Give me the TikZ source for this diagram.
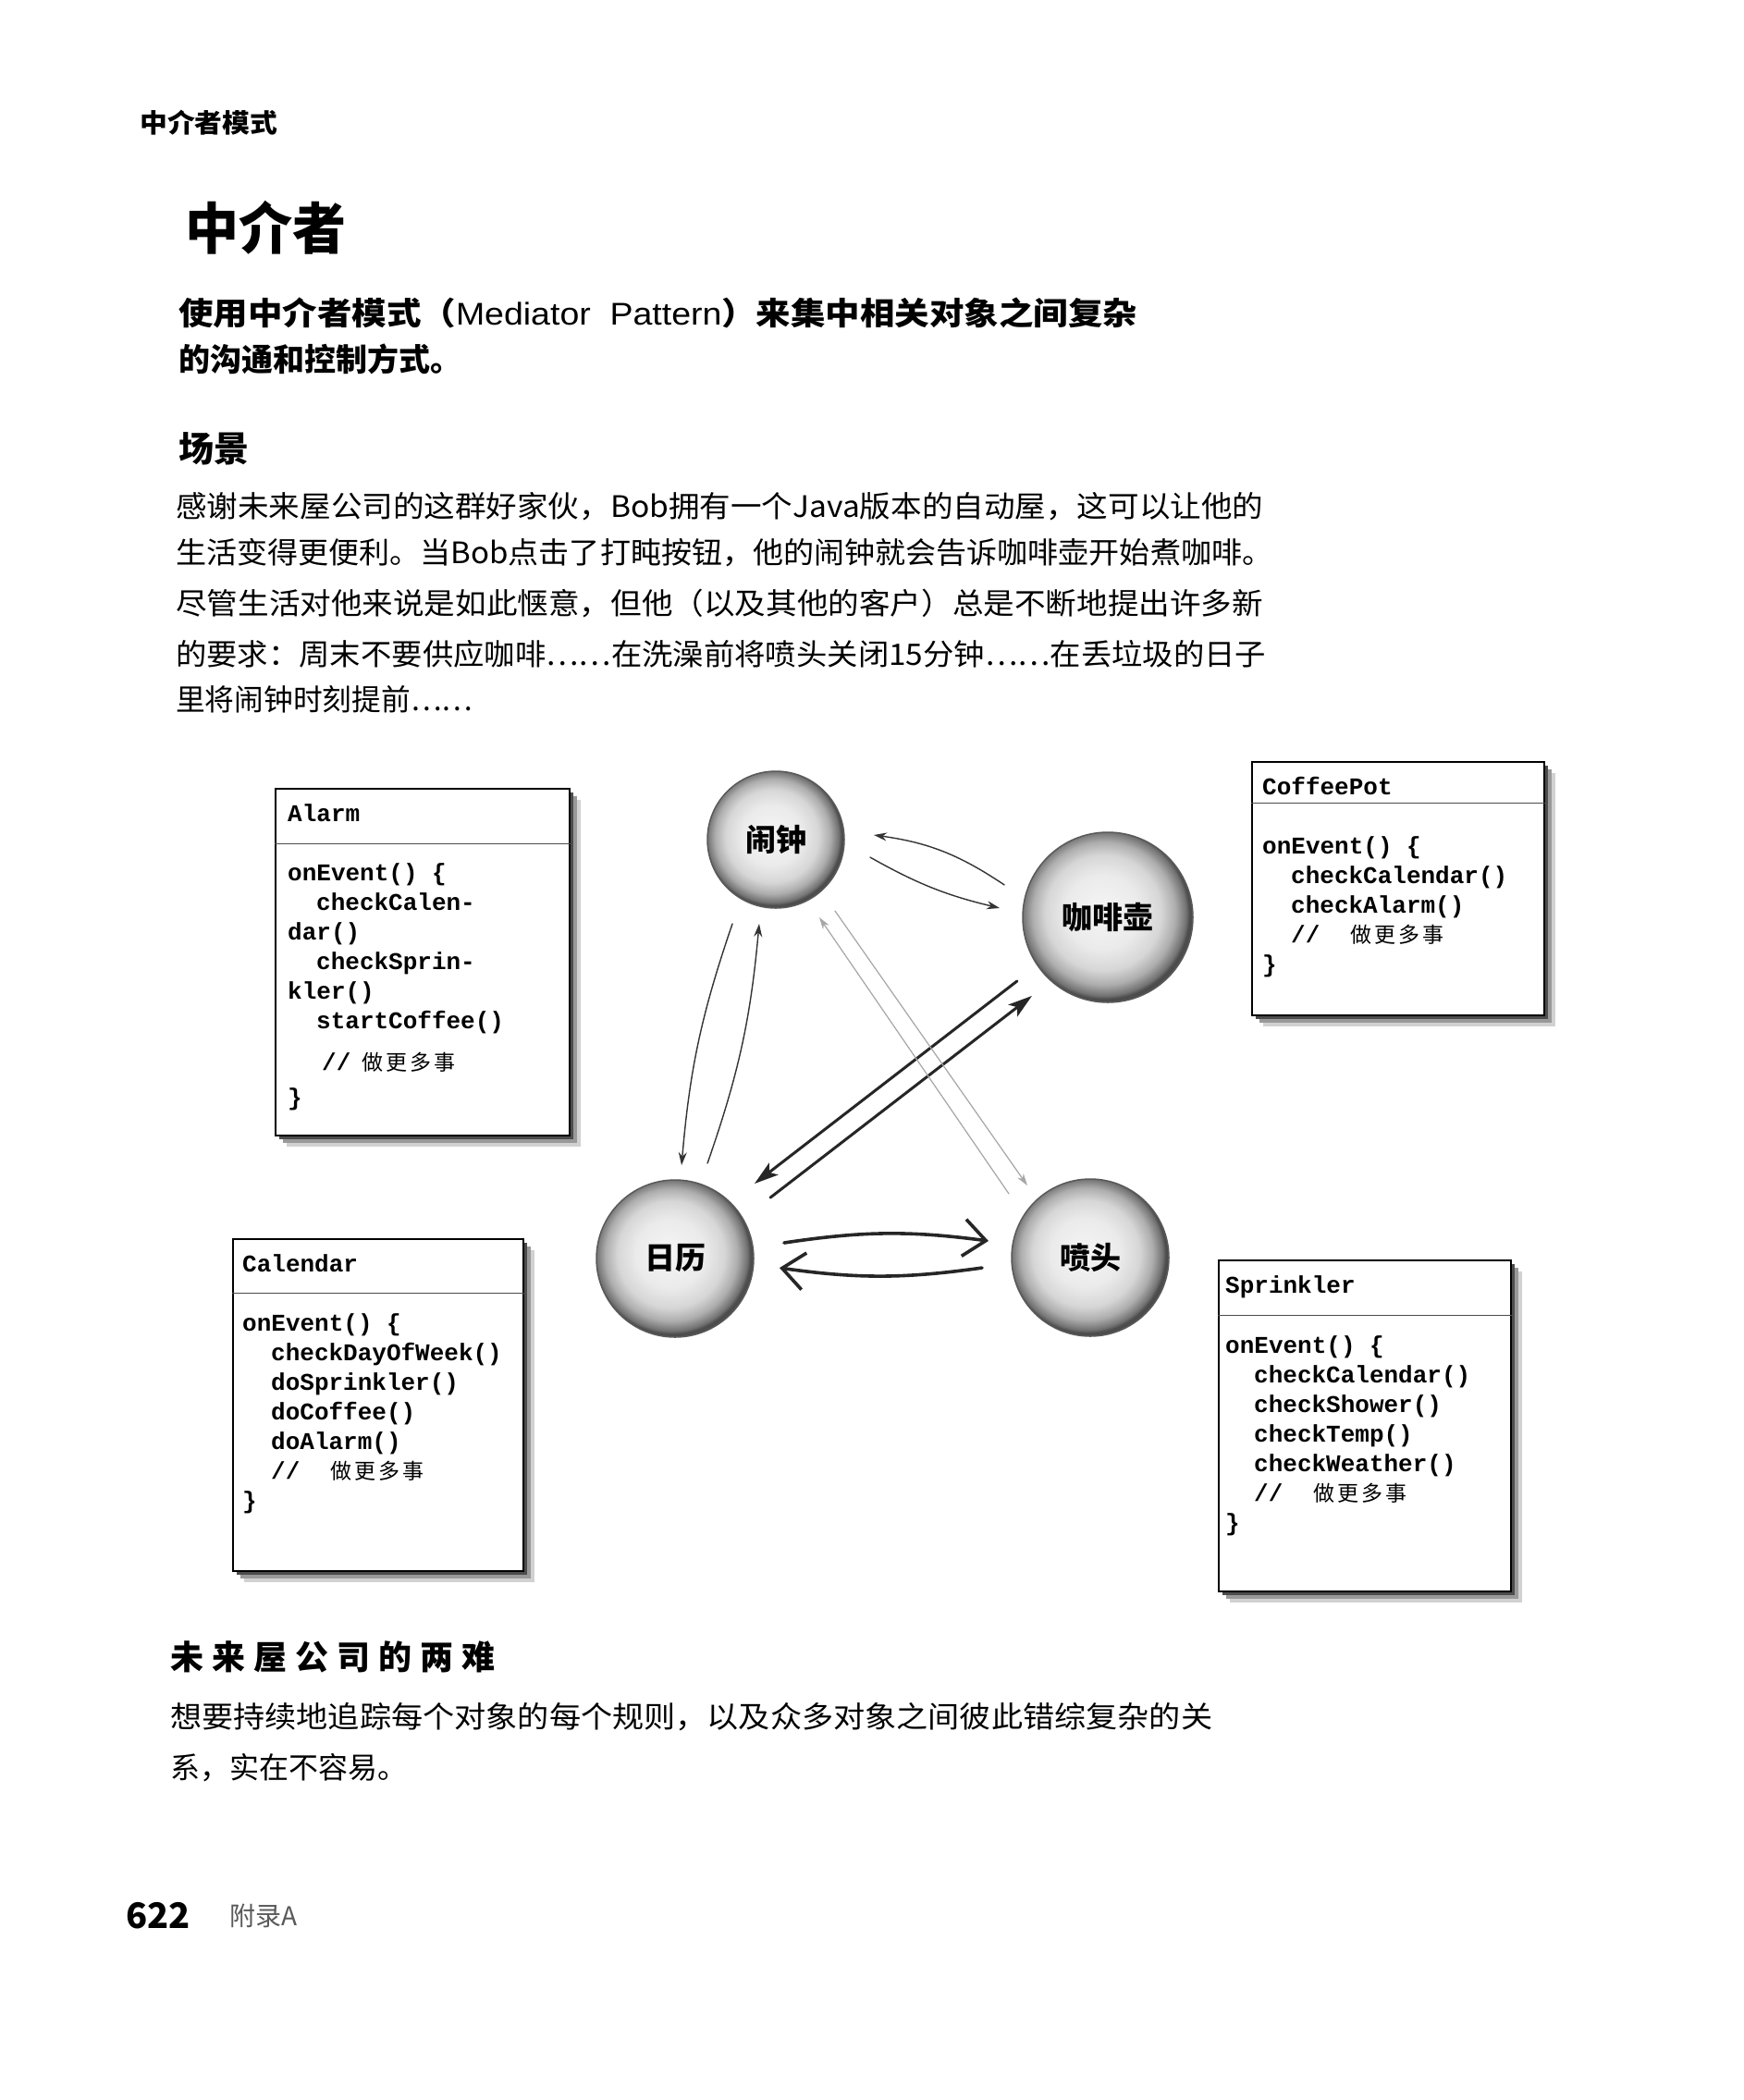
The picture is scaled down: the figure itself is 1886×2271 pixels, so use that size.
\documentclass[tikz,border=0pt]{standalone}
\usepackage{fontspec}
\usepackage{graphicx}
\setmainfont{Noto Sans CJK SC}
\newfontfamily\cjk{Noto Sans CJK SC}
\newfontfamily\monob{Liberation Mono}
\newfontfamily\latsans{Liberation Sans}
\usetikzlibrary{arrows.meta,shadows,calc}
\pgfdeclareradialshading{sphere}{\pgfpoint{-2bp}{2bp}}{color(0bp)=(black!4); color(11bp)=(black!8); color(17bp)=(black!16); color(21bp)=(black!32); color(24bp)=(black!55); color(25bp)=(black!70); color(50bp)=(black!70)}
\newcommand\fs[2]{\fontsize{#1}{#2}\selectfont}
\newcommand\fitto[2]{\resizebox{#1}{\height}{#2}}
\newcommand\todo{{\cjk\mdseries\fs{23}{32}做\hspace{3pt}更\hspace{3pt}多\hspace{3pt}事}}
\tikzset{
  classbox/.style={draw=black, line width=1.8pt, fill=white, inner sep=0pt,
    general shadow={shadow xshift=12pt, shadow yshift=-12pt, fill=black!18},
    general shadow={shadow xshift=8pt, shadow yshift=-8pt, fill=black!40},
    general shadow={shadow xshift=4pt, shadow yshift=-4pt, fill=black!70}},
  divider/.style={draw=black!70, line width=1pt},
  monotext/.style={inner sep=0pt, font=\monob\bfseries\fs{26}{32}},
  txt/.style={inner sep=0pt, anchor=west},
  ball/.style={circle, draw=black!65, line width=1.5pt, shading=sphere, inner sep=0pt, font=\bfseries\fs{33}{40}},
  thinarr/.style={draw=black!80, line width=1.4pt, line cap=round, -{Stealth[length=14pt,width=9pt]}},
  greyarr/.style={draw=black!35, line width=1.2pt, line cap=round, -{Stealth[length=13pt,width=8pt]}},
  thickarr/.style={draw=black!85, line width=3pt, line cap=round, -{Stealth[length=26pt,width=16pt,inset=6pt]}},
  barbarr/.style={draw=black!85, line width=3.6pt, line cap=round, -{Straight Barb[length=24pt,width=40pt]}}
}
\begin{document}
\begin{tikzpicture}[x=1pt, y=-1pt]
\fill[white] (0,0) rectangle (1886,2271);
\useasboundingbox (0,0) rectangle (1886,2271);

% page texts
\node[txt] (hdr) at (151,133) {\fitto{149pt}{\bfseries\fs{28}{34}中介者模式}};
\node[txt] (title) at (200,246) {\fitto{174pt}{\bfseries\fs{60}{70}中介者}};
\node[txt] (sub1) at (193,338) {\fitto{1037pt}{\bfseries\fs{34}{40}使用中介者模式（{\mdseries\latsans Mediator\ \ Pattern}）来集中相关对象之间复杂}};
\node[txt] (sub2) at (193,388) {\bfseries\fs{34}{40}的沟通和控制方式。};
\node[txt] (scene) at (193,485) {\bfseries\fs{38}{44}场景};
\node[txt] (p1) at (190,548) {\fitto{1176pt}{\fs{32}{38}感谢未来屋公司的这群好家伙，Bob拥有一个Java版本的自动屋，这可以让他的}};
\node[txt] (p2) at (190,598) {\fitto{1186pt}{\fs{32}{38}生活变得更便利。当Bob点击了打盹按钮，他的闹钟就会告诉咖啡壶开始煮咖啡。}};
\node[txt] (p3) at (190,653) {\fitto{1176pt}{\fs{32}{38}尽管生活对他来说是如此惬意，但他（以及其他的客户）总是不断地提出许多新}};
\node[txt] (p4) at (190,707) {\fitto{1179pt}{\fs{32}{38}的要求：周末不要供应咖啡……在洗澡前将喷头关闭15分钟……在丢垃圾的日子}};
\node[txt] (p5) at (190,756) {\fitto{321pt}{\fs{32}{38}里将闹钟时刻提前……}};

\node[txt] (dilemma) at (184,1792) {\bfseries\fs{36}{42}未\hspace{9pt}来\hspace{9pt}屋\hspace{9pt}公\hspace{9pt}司\hspace{9pt}的\hspace{9pt}两\hspace{9pt}难};
\node[txt] (q1) at (184,1857) {\fitto{1127pt}{\fs{32}{38}想要持续地追踪每个对象的每个规则，以及众多对象之间彼此错综复杂的关}};
\node[txt] (q2) at (184,1912) {\fs{32}{38}系，实在不容易。};

\node[txt] (pageno) at (136,2072) {\bfseries\fs{38}{44}622};
\node[txt, text=black!65] (appendix) at (248,2072) {\fs{28}{34}附录A};

% class boxes
\node[classbox, minimum width=318pt, minimum height=375pt] (alarmbox) at (457,1040.5) {};
\draw[divider] ([yshift=-60pt]alarmbox.north west) -- ([yshift=-60pt]alarmbox.north east);
\node[monotext, anchor=west] (alarmtitle) at (311,879) {Alarm};
\node[monotext, anchor=north west, align=left] (alarmcode) at (311,930) {\strut onEvent() \{\\
\hspace*{31pt}checkCalen-\\
dar()\\
\hspace*{31pt}checkSprin-\\
kler()\\
\hspace*{31pt}startCoffee()\\[13pt]
\hspace*{37pt}//\hspace{12pt}\todo\\[6pt]
\}};

\node[classbox, minimum width=316pt, minimum height=274pt] (coffeebox) at (1512,961) {};
\draw[divider] ([yshift=-45pt]coffeebox.north west) -- ([yshift=-45pt]coffeebox.north east);
\node[monotext, anchor=west] (coffeetitle) at (1365,850) {CoffeePot};
\node[monotext, anchor=north west, align=left] (coffeecode) at (1365,901) {\strut onEvent() \{\\
\hspace*{31pt}checkCalendar()\\
\hspace*{31pt}checkAlarm()\\
\hspace*{31pt}//\hspace{33pt}\todo\\
\}};

\node[classbox, minimum width=314pt, minimum height=359pt] (calendarbox) at (409,1519.5) {};
\draw[divider] ([yshift=-59pt]calendarbox.north west) -- ([yshift=-59pt]calendarbox.north east);
\node[monotext, anchor=west] (calendartitle) at (262,1366) {Calendar};
\node[monotext, anchor=north west, align=left] (calendarcode) at (262,1417) {\strut onEvent() \{\\
\hspace*{31pt}checkDayOfWeek()\\
\hspace*{31pt}doSprinkler()\\
\hspace*{31pt}doCoffee()\\
\hspace*{31pt}doAlarm()\\
\hspace*{31pt}//\hspace{33pt}\todo\\
\}};

\node[classbox, minimum width=316pt, minimum height=358pt] (sprinklerbox) at (1476,1542) {};
\draw[divider] ([yshift=-60pt]sprinklerbox.north west) -- ([yshift=-60pt]sprinklerbox.north east);
\node[monotext, anchor=west] (sprinklertitle) at (1325,1392) {Sprinkler};
\node[monotext, anchor=north west, align=left] (sprinklercode) at (1325,1441) {\strut onEvent() \{\\
\hspace*{31pt}checkCalendar()\\
\hspace*{31pt}checkShower()\\
\hspace*{31pt}checkTemp()\\
\hspace*{31pt}checkWeather()\\
\hspace*{31pt}//\hspace{33pt}\todo\\
\}};

% objects
\node[ball, minimum size=148pt] (alarm) at (839,908) {闹钟};
\node[ball, minimum size=184pt] (coffee) at (1198,992) {咖啡壶};
\node[ball, minimum size=170pt] (calendar) at (730,1361) {日历};
\node[ball, minimum size=170pt] (sprinkler) at (1179,1360) {喷头};

% connectors
\draw[thinarr] ([shift={(197.4:117.3)}]coffee.center) to[bend right=13] ([shift={(-2.7:106.1)}]alarm.center);
\draw[thinarr] ([shift={(10.6:103.8)}]alarm.center) to[bend right=8] ([shift={(184.9:117.4)}]coffee.center);
\draw[thinarr] ([shift={(117.3:102.4)}]alarm.center) to[bend right=7] ([shift={(-86:101.2)}]calendar.center);
\draw[thinarr] ([shift={(-71.2:108.8)}]calendar.center) to[bend right=7] ([shift={(101.2:92.8)}]alarm.center);
\draw[thickarr] ([shift={(144.9:119.9)}]coffee.center) -- ([shift={(-43.3:118.1)}]calendar.center);
\draw[thickarr] ([shift={(-32.6:122.3)}]calendar.center) -- ([shift={(134:118.1)}]coffee.center);
\draw[greyarr] ([shift={(218.1:111.8)}]sprinkler.center) -- ([shift={(60.8:96.3)}]alarm.center);
\draw[greyarr] ([shift={(50.3:100.1)}]alarm.center) -- ([shift={(228.9:103.5)}]sprinkler.center);
\draw[barbarr] ([shift={(-8.2:119.2)}]calendar.center) to[bend left=8] ([shift={(189.3:111.5)}]sprinkler.center);
\draw[barbarr] ([shift={(174.6:117.5)}]sprinkler.center) to[bend left=8] ([shift={(5.1:113.4)}]calendar.center);
\end{tikzpicture}
\end{document}
